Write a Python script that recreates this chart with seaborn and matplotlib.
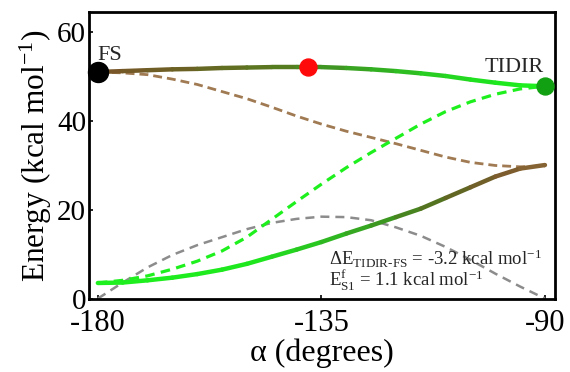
import numpy as np
import pandas as pd
import matplotlib
matplotlib.use("Agg")
import matplotlib.pyplot as plt
from matplotlib.collections import LineCollection
from matplotlib.colors import LinearSegmentedColormap
import seaborn as sns

# Torsion angle alpha (degrees)
alpha = [-180, -175, -170, -165, -160, -155, -150, -145, -140, -135,
         -130, -125, -120, -115, -110, -105, -100, -95, -90]

# Adiabatic excited-state surface (kcal/mol)
s1_adiabatic = [51.1, 51.3, 51.5, 51.7, 51.8, 52.0, 52.1, 52.2, 52.2, 52.2,
                52.0, 51.7, 51.3, 50.8, 50.2, 49.4, 48.7, 48.1, 47.9]
# Adiabatic ground-state surface (kcal/mol)
s0_adiabatic = [3.7, 3.8, 4.3, 4.9, 5.7, 6.7, 8.0, 9.6, 11.2, 12.9,
                14.8, 16.6, 18.5, 20.4, 22.8, 25.2, 27.6, 29.4, 30.2]
# Diabatic states (kcal/mol)
fs_diabatic = [51.1, 50.9, 50.5, 49.5, 48.3, 46.7, 45.1, 43.2, 41.2, 39.4,
               37.8, 36.4, 35.0, 33.5, 32.0, 30.8, 30.1, 29.8, 30.0]
tidir_diabatic = [3.7, 4.3, 5.3, 6.8, 8.6, 10.9, 14.0, 18.0, 22.0, 25.9,
                  29.6, 33.0, 36.2, 39.4, 42.2, 44.4, 46.1, 47.3, 47.9]
# Electronic coupling (kcal/mol)
coupling = [0.2, 3.8, 7.2, 10.0, 12.2, 14.0, 15.8, 17.2, 18.1, 18.6,
            18.5, 17.8, 16.2, 14.3, 11.8, 8.9, 5.8, 2.9, 0.2]

# Stationary points
point_alpha = [-180, -137.7, -90]
point_energy = [51.1, 52.2, 47.9]
point_labels = ["FS", "TIDIR"]

delta_e = -3.2
barrier = 1.1

df = pd.DataFrame({
    "alpha": alpha,
    "s1": s1_adiabatic,
    "s0": s0_adiabatic,
    "fs": fs_diabatic,
    "tidir": tidir_diabatic,
    "coupling": coupling,
})

sns.set_theme(style="white")
serif = ["Liberation Serif", "DejaVu Serif"]
plt.rcParams["font.family"] = serif
plt.rcParams["axes.unicode_minus"] = False
plt.rcParams["mathtext.fontset"] = "custom"
plt.rcParams["mathtext.rm"] = "Liberation Serif"
plt.rcParams["mathtext.it"] = "Liberation Serif:italic"
plt.rcParams["mathtext.bf"] = "Liberation Serif:bold"

fig = plt.figure(figsize=(5.7, 3.72), dpi=100)
ax = fig.add_axes([0.156, 0.195, 0.8175, 0.773])

brown = "#a07a52"
bright_green = "#1ef01e"
gray = "#8c8c8c"

# Dashed diabatic curves and the coupling
sns.lineplot(data=df, x="alpha", y="coupling", ax=ax, color=gray,
             lw=1.8, linestyle=(0, (3.6, 2.4)), zorder=2)
sns.lineplot(data=df, x="alpha", y="fs", ax=ax, color=brown,
             lw=2.0, linestyle=(0, (3.2, 1.8)), zorder=3)
sns.lineplot(data=df, x="alpha", y="tidir", ax=ax, color=bright_green,
             lw=2.3, linestyle=(0, (3.0, 2.0)), zorder=3)

# Solid adiabatic curves coloured by diabatic character
upper_cmap = LinearSegmentedColormap.from_list("upper", [
    (0.0, "#7a5428"), (0.2, "#6a6224"), (0.4, "#587a20"), (0.55, "#3c9a22"),
    (0.75, "#28cc22"), (0.9, "#1ee81e"), (1.0, "#1ef01e")])
lower_cmap = LinearSegmentedColormap.from_list("lower", [
    (0.0, "#1ef01e"), (0.35, "#1ee81e"), (0.5, "#2cc022"), (0.63, "#3a9a20"),
    (0.78, "#5a6a20"), (0.9, "#7a5a2c"), (1.0, "#8a6634")])


def gradient_line(x, y, cmap):
    x = np.asarray(x, float)
    y = np.asarray(y, float)
    pts = np.column_stack([x, y]).reshape(-1, 1, 2)
    segs = np.concatenate([pts[:-1], pts[1:]], axis=1)
    mids = (x[:-1] + x[1:]) / 2
    t = (mids - x.min()) / (x.max() - x.min())
    lc = LineCollection(segs, colors=cmap(t), linewidths=3.2,
                        capstyle="round", joinstyle="round", zorder=4)
    ax.add_collection(lc)


gradient_line(df["alpha"], df["s1"], upper_cmap)
gradient_line(df["alpha"], df["s0"], lower_cmap)

# Stationary points
for a, e, c, ms in zip(point_alpha, point_energy,
                       ["black", "#ff0a0a", "#11a011"], [14.4, 12.2, 12.2]):
    ax.plot([a], [e], "o", color=c, markersize=ms, zorder=6, clip_on=False)

ax.text(point_alpha[0], 53.8, point_labels[0],
        fontsize=16, ha="left", va="baseline")
ax.text(point_alpha[2] - 0.2, 51.1, point_labels[1],
        fontsize=16, ha="right", va="baseline")

ax.text(-133.5, 7.75,
        r"$\Delta$E$_{\mathrm{TIDIR\text{-}FS}}$ = " + f"{delta_e:.1f}" + r" kcal mol$^{-1}$",
        fontsize=13.5, ha="left", va="baseline")
ax.text(-133.5, 2.8,
        r"E$^{\mathrm{f}}_{\mathrm{S1}}$ = " + f"{barrier:.1f}" + r" kcal mol$^{-1}$",
        fontsize=13.5, ha="left", va="baseline")

ax.set_xlim(-181.8, -88.0)
ax.set_ylim(0, 64.6)
ax.set_xticks([-180, -135, -90])
ax.set_yticks([0, 20, 40, 60])
ax.tick_params(axis="x", direction="in", length=3, width=1.2, labelsize=22,
               pad=7, colors="black", bottom=True)
ax.tick_params(axis="y", direction="in", length=3, width=1.2, labelsize=21,
               pad=2, colors="black", left=True)
for lbl in ax.get_yticklabels():
    lbl.set_verticalalignment("center_baseline")
for side in ["left", "right", "top", "bottom"]:
    ax.spines[side].set_visible(True)
    ax.spines[side].set_color("black")
    ax.spines[side].set_linewidth(2.0)

ax.set_xlabel("α (degrees)", fontsize=23, labelpad=0, color="black")
ax.set_ylabel(r"Energy (kcal mol$^{-1}$)", fontsize=22.5, labelpad=2, color="black")

fig.savefig("out.png", dpi=100)
